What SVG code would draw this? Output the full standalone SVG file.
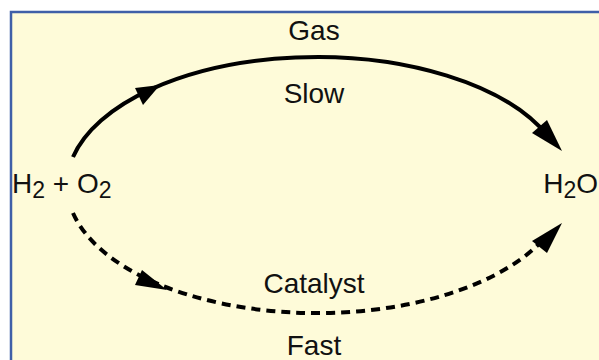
<svg xmlns="http://www.w3.org/2000/svg" width="599" height="360" viewBox="0 0 599 360">
  <style>
    .label { font-family: "Liberation Sans", Arial, sans-serif; font-size: 28px; fill: #111; }
    .sub { font-size: 23px; }
    .solid { fill: none; stroke: #000; stroke-width: 4; }
    .dashed { fill: none; stroke: #000; stroke-width: 4; stroke-dasharray: 9 6; }
    .head { fill: #000; }
  </style>
  <!-- panel background -->
  <rect x="11" y="12" width="600" height="360" fill="#FEFBD9" stroke="#3F5FA8" stroke-width="2.5"/>

  <g id="connectors">
    <!-- gas-phase route (upper arc) -->
    <path class="solid" d="M73,157 A250,128 0 0 1 548,136"/>
    <polygon class="head" points="160,85 135,88 143,105"/>
    <polygon class="head" points="562,151 532,133 547,120"/>
    <!-- catalysed route (lower arc) -->
    <path class="dashed" d="M73,213 A250,128 0 0 0 548,234"/>
    <polygon class="head" points="167,290 135,285 142,270"/>
    <polygon class="head" points="562,223 532,241 547,253"/>
  </g>

  <g id="reactants">
    <text class="label" x="12" y="193">H<tspan class="sub" dy="5">2</tspan><tspan dy="-5"> + O</tspan><tspan class="sub" dy="5">2</tspan></text>
  </g>
  <g id="product">
    <text class="label" x="598" y="193" text-anchor="end">H<tspan class="sub" dy="5">2</tspan><tspan dy="-5">O</tspan></text>
  </g>
  <g id="labels">
    <text class="label" x="314" y="40" text-anchor="middle">Gas</text>
    <text class="label" x="314" y="103" text-anchor="middle">Slow</text>
    <text class="label" x="314" y="293" text-anchor="middle">Catalyst</text>
    <text class="label" x="314" y="355" text-anchor="middle">Fast</text>
  </g>
</svg>
